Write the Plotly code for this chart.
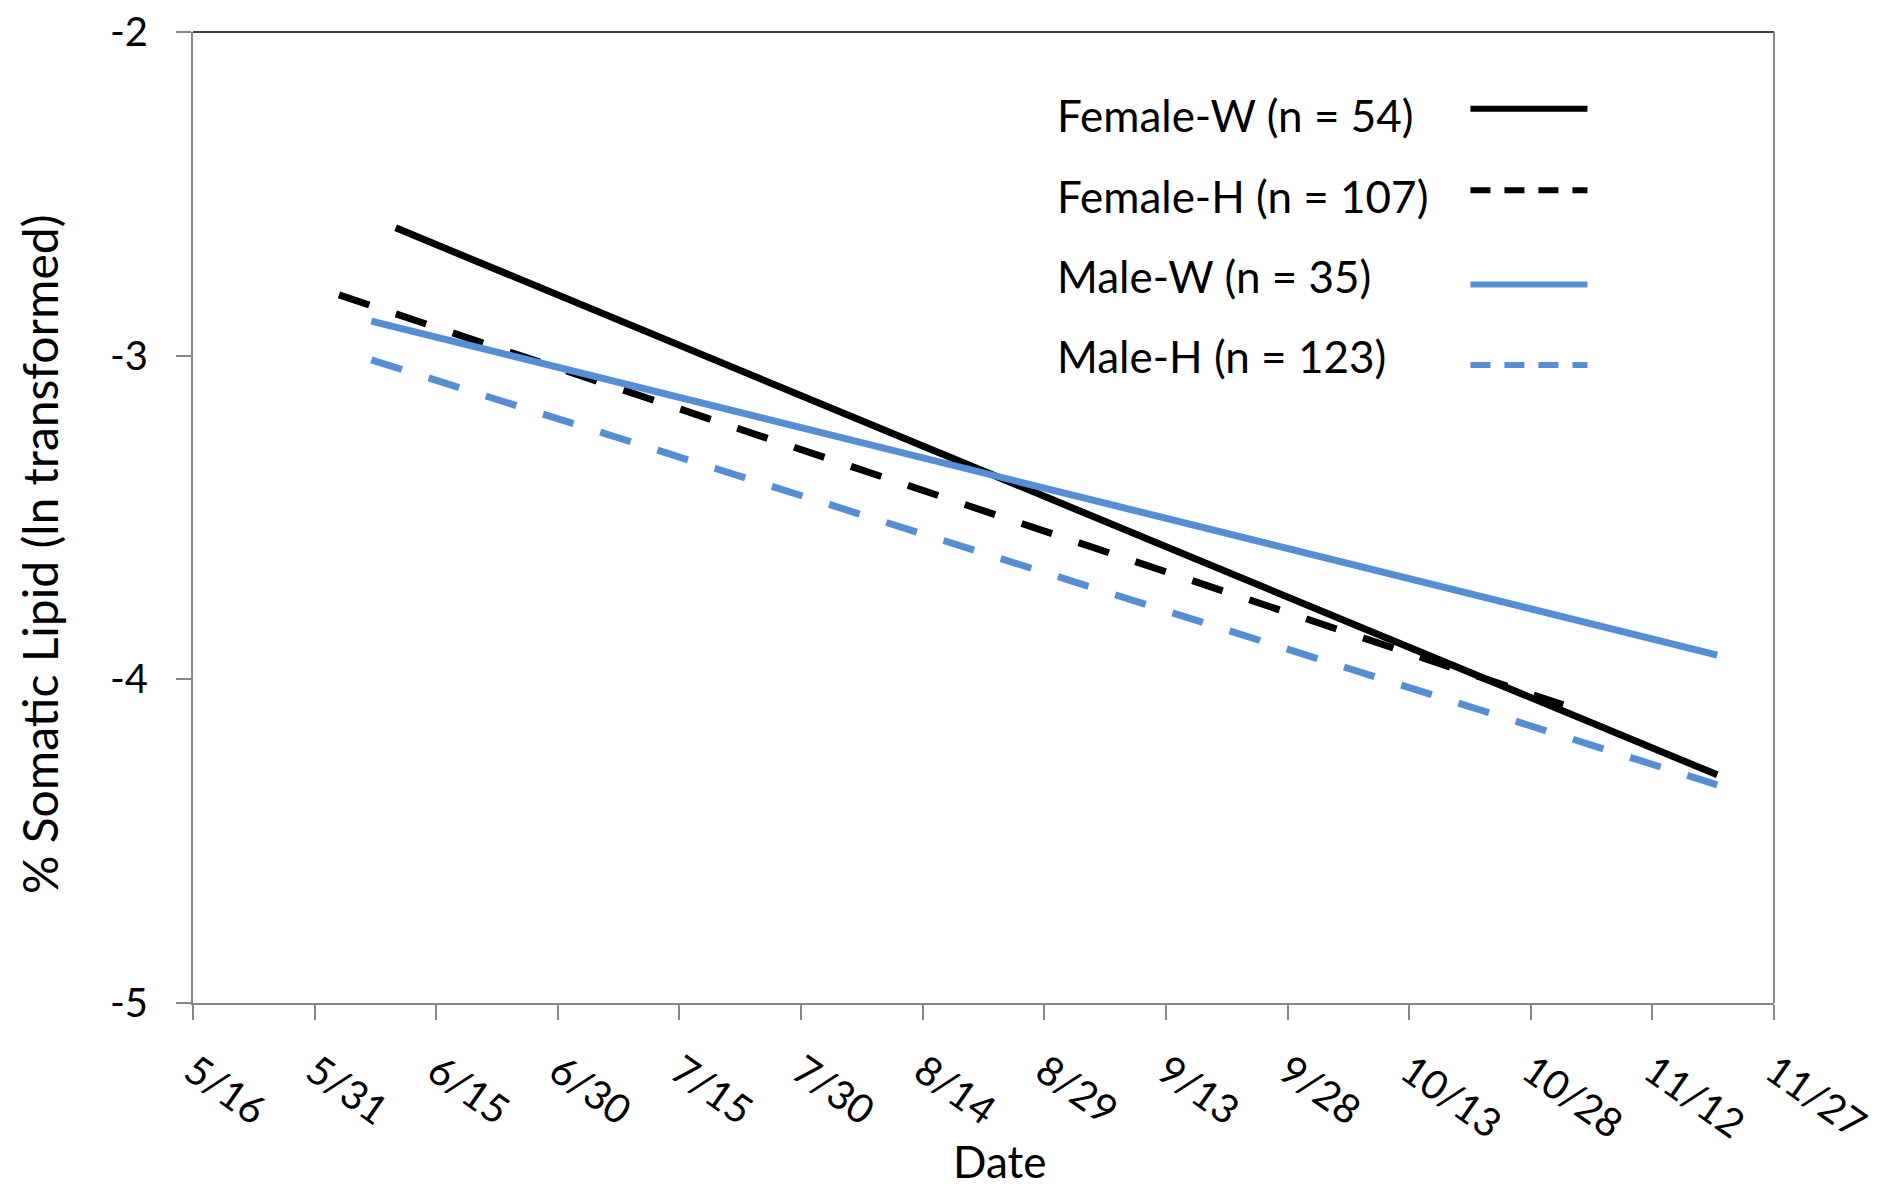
import plotly.graph_objects as go

# ---- data ----
series_names = ["Female-W (n = 54)", "Female-H (n = 107)", "Male-W (n = 35)", "Male-H (n = 123)"]
fw_dates = ["2013-06-10", "2013-11-20"]
fw_vals = [-2.605, -4.295]
fh_dates = ["2013-06-03", "2013-11-01"]
fh_vals = [-2.812, -4.079]
mw_dates = ["2013-06-07", "2013-11-20"]
mw_vals = [-2.893, -3.925]
mh_dates = ["2013-06-07", "2013-11-20"]
mh_vals = [-3.013, -4.326]

x_tickvals = ["2013-05-16", "2013-05-31", "2013-06-15", "2013-06-30", "2013-07-15", "2013-07-30",
              "2013-08-14", "2013-08-29", "2013-09-13", "2013-09-28", "2013-10-13", "2013-10-28",
              "2013-11-12", "2013-11-27"]
x_ticktext = ["5/16", "5/31", "6/15", "6/30", "7/15", "7/30", "8/14", "8/29", "9/13", "9/28",
              "10/13", "10/28", "11/12", "11/27"]
y_tickvals = [-5, -4, -3, -2]
y_ticktext = ["-5", "-4", "-3", "-2"]

BLACK = "#000000"
BLUE = "#558ED5"
AXIS = "#868686"
FONT = "Lato, 'Open Sans', sans-serif"
FS = 40
DASH = "32px,28px"
LW = 7

styles = [
    (fw_dates, fw_vals, BLACK, "solid"),
    (fh_dates, fh_vals, BLACK, DASH),
    (mw_dates, mw_vals, BLUE, "solid"),
    (mh_dates, mh_vals, BLUE, DASH),
]

fig = go.Figure()
for name, (xs, ys, col, dash) in zip(series_names, styles):
    fig.add_trace(go.Scatter(x=xs, y=ys, mode="lines", name=name,
                             line=dict(color=col, width=LW, dash=dash),
                             showlegend=False))

# Excel-style legend: text on the left, line sample on the right
leg_text_y = [0.915, 0.831, 0.749, 0.666]
leg_line_y = [0.921, 0.837, 0.740, 0.657]
annotations = []
shapes = []
for name, (xs, ys, col, dash), ty, ly in zip(series_names, styles, leg_text_y, leg_line_y):
    annotations.append(dict(xref="paper", yref="paper", x=0.545, y=ty, text=name,
                            showarrow=False, xanchor="left", yanchor="middle",
                            font=dict(family=FONT, size=44, color="black")))
    shapes.append(dict(type="line", xref="paper", yref="paper", x0=0.808, x1=0.882, y0=ly, y1=ly,
                       line=dict(color=col, width=6, dash=("20px,14px" if dash != "solid" else "solid"))))

# axis titles
annotations.append(dict(xref="paper", yref="paper", x=-0.097, y=0.462, text="% Somatic Lipid (ln transformed)",
                        showarrow=False, textangle=-90, xanchor="center", yanchor="middle",
                        font=dict(family=FONT, size=48, color="black")))
annotations.append(dict(xref="paper", yref="paper", x=0.510, y=-0.163, text="Date",
                        showarrow=False, xanchor="center", yanchor="middle",
                        font=dict(family=FONT, size=44, color="black")))

# plot-area frame (top black, right gray)
shapes.append(dict(type="line", xref="paper", yref="paper", x0=0, x1=1, y0=1, y1=1,
                   line=dict(color="#000000", width=1.5)))
shapes.append(dict(type="line", xref="paper", yref="paper", x0=1, x1=1, y0=0, y1=1,
                   line=dict(color=AXIS, width=2)))

fig.update_layout(
    width=1877, height=1192,
    margin=dict(l=185, r=111, t=24, b=197, autoexpand=False),
    paper_bgcolor="white", plot_bgcolor="white",
    font=dict(family=FONT, size=FS, color="black"),
    annotations=annotations, shapes=shapes,
    showlegend=False,
)
fig.update_xaxes(type="date", range=["2013-05-16", "2013-11-27"],
                 tickvals=x_tickvals, ticktext=x_ticktext, tickangle=35,
                 ticks="outside", ticklen=15, tickwidth=2, tickcolor=AXIS,
                 showline=True, linecolor=AXIS, linewidth=2, showgrid=False, zeroline=False,
                 ticklabelstandoff=12, ticklabeloverflow="allow", automargin=False,
                 tickfont=dict(family=FONT, size=FS, color="black"))
fig.update_yaxes(range=[-5, -2], tickvals=y_tickvals, ticktext=y_ticktext,
                 ticks="outside", ticklen=15, tickwidth=2, tickcolor=AXIS,
                 showline=True, linecolor=AXIS, linewidth=2, showgrid=False, zeroline=False,
                 ticklabelstandoff=20, ticklabeloverflow="allow", automargin=False,
                 tickfont=dict(family=FONT, size=FS, color="black"))

fig.write_html("out.html")
